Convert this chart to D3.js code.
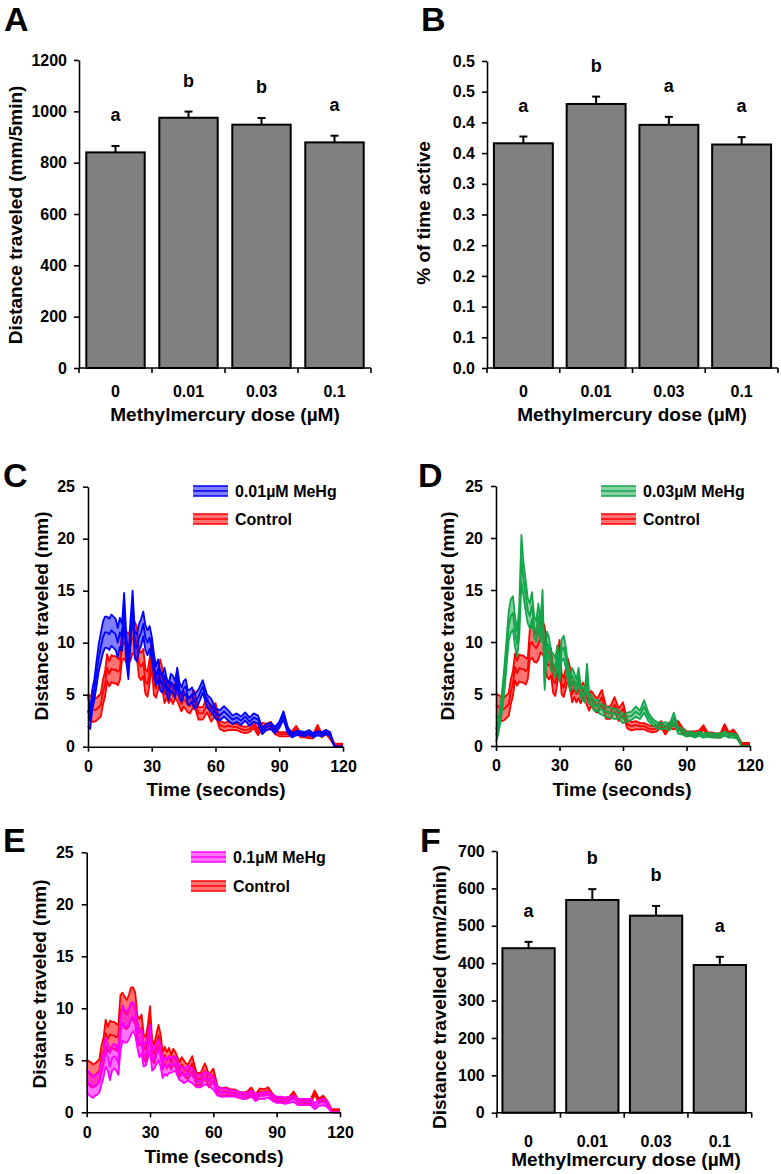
<!DOCTYPE html>
<html><head><meta charset="utf-8">
<script src="https://cdn.jsdelivr.net/npm/d3@7"></script>
<style>
body{margin:0;background:#fff}
svg text{font-family:"Liberation Sans",Arial,sans-serif;font-weight:bold;fill:#000}
</style>
</head><body>
<svg id="fig" width="781" height="1174"></svg>
<script>
// ---------------- data ----------------
const doseCats = ["0", "0.01", "0.03", "0.1"];

const distance5min = [840, 975, 948, 879];
const distance5minErr = [25, 24, 26, 26];
const distance5minLetters = ["a", "b", "b", "a"];
const distance5minTicks = [0, 200, 400, 600, 800, 1000, 1200];
const distance5minTickLabels = ["0", "200", "400", "600", "800", "1000", "1200"];

const activeFrac = [0.366, 0.430, 0.396, 0.364];
const activeFracErr = [0.011, 0.012, 0.013, 0.012];
const activeLetters = ["a", "b", "a", "a"];
const activeTicks = [0, 0.05, 0.1, 0.15, 0.2, 0.25, 0.3, 0.35, 0.4, 0.45, 0.5];
const activeTickLabels = ["0.0", "0.1", "0.1", "0.2", "0.2", "0.3", "0.3", "0.4", "0.4", "0.5", "0.5"];

const distance2min = [440, 569, 527, 395];
const distance2minErr = [17, 29, 26, 22];
const distance2minLetters = ["a", "b", "b", "a"];
const distance2minTicks = [0, 100, 200, 300, 400, 500, 600, 700];
const distance2minTickLabels = ["0", "100", "200", "300", "400", "500", "600", "700"];

const timeTicks = [0, 30, 60, 90, 120];
const distanceTicks = [0, 5, 10, 15, 20, 25];

const timeSec = [0,1,2,3,4,5,6,7,8,9,10,11,12,13,14,15,16,17,18,19,20,21,22,23,24,25,26,27,28,29,30,
  31,32,33,34,35,36,37,38,39,40,41,42,43,44,45,46,47,48,49,50,
  52,54,56,58,60,62,64,66,68,70,72,74,76,78,80,82,84,86,88,90,92,94,96,98,100,
  102,104,106,108,110,112,114,116,118,120];

const controlMean = [4.0,3.8,3.6,3.5,3.6,3.8,4.0,5.2,6.0,7.6,7.0,7.5,7.4,7.4,7.2,7.4,9.8,10.0,9.6,9.4,9.8,10.5,10.4,10.0,8.0,7.7,8.1,6.3,6.0,7.3,9.0,
  6.0,5.6,6.5,7.4,6.5,5.0,5.5,5.0,5.4,4.8,5.4,5.1,4.6,4.1,4.6,4.3,4.0,3.9,4.3,4.7,
  3.2,3.2,4.0,3.0,3.6,2.1,1.9,2.0,1.9,1.9,1.7,1.6,1.7,2.1,1.4,2.0,1.9,2.1,1.5,1.2,1.2,1.2,1.3,1.8,1.1,
  1.1,1.0,1.0,1.9,1.1,1.4,0.9,0.2,0.2,0.2];
const controlSem = [1.1,1.1,1.2,1.1,1.1,1.1,1.1,1.2,1.2,1.3,1.2,1.3,1.3,1.3,1.3,1.0,1.5,1.5,1.5,1.4,1.5,1.5,1.6,1.5,1.3,1.3,1.3,1.2,1.2,1.2,1.2,
  1.0,0.9,1.0,1.0,1.0,0.8,0.8,0.8,0.8,0.7,0.7,0.7,0.7,0.7,0.7,0.7,0.7,0.7,0.7,0.7,
  0.6,0.6,0.7,0.6,0.6,0.4,0.4,0.4,0.3,0.3,0.3,0.3,0.3,0.3,0.3,0.3,0.3,0.3,0.3,0.2,0.2,0.2,0.2,0.2,0.2,
  0.2,0.2,0.2,0.2,0.2,0.2,0.2,0.1,0.1,0.1];

const mehg001Mean = [3.5,2.5,4.5,5.5,7.0,8.5,9.5,10.5,11.0,11.0,10.8,11.2,11.0,10.8,10.0,11.0,10.5,13.5,9.5,7.5,11.0,14.0,9.8,9.5,10.5,11.0,11.8,10.5,10.0,10.5,9.5,
  8.0,6.8,7.5,6.3,6.0,6.8,5.8,5.3,6.2,6.0,5.5,6.8,5.5,5.0,5.6,5.8,4.7,4.8,5.0,4.3,
  4.8,5.8,4.4,4.0,3.2,3.0,3.4,3.0,2.6,2.8,2.5,2.9,2.4,2.8,2.6,1.5,1.9,2.0,1.6,2.1,3.0,1.6,1.1,1.3,1.3,
  1.2,1.4,1.1,1.3,1.2,1.4,1.2,0,0,0];
const mehg001Sem = [1.5,0.8,1.0,1.0,1.2,1.3,1.4,1.5,1.5,1.5,1.5,1.5,1.5,1.5,1.4,1.4,1.3,1.3,1.3,1.0,1.2,1.0,1.3,1.3,1.3,1.3,1.2,1.2,1.2,1.1,1.1,
  1.0,0.9,0.9,0.9,0.8,0.8,0.8,0.8,0.8,0.8,0.8,0.8,0.7,0.7,0.7,0.7,0.7,0.7,0.7,0.7,
  0.7,0.6,0.6,0.6,0.5,0.5,0.5,0.5,0.4,0.4,0.4,0.4,0.4,0.4,0.4,0.3,0.3,0.3,0.3,0.3,0.4,0.3,0.2,0.2,0.2,
  0.2,0.2,0.2,0.2,0.2,0.2,0.2,0,0,0];

const mehg003Mean = [1.0,1.7,3.0,4.5,6.5,9.0,11.5,12.5,12.8,11.0,9.8,12.0,18.0,16.0,14.5,13.0,12.5,13.5,11.5,11.0,12.5,11.0,13.5,6.0,10.0,9.5,8.2,8.0,7.5,8.8,7.0,
  9.2,9.5,8.5,7.0,6.0,6.8,6.3,5.8,6.8,5.3,5.0,4.8,7.0,4.6,4.4,4.0,3.8,4.0,3.6,3.5,
  3.3,3.2,3.1,3.0,2.6,2.8,2.9,3.3,3.0,3.8,2.8,2.3,2.0,1.9,2.0,1.8,2.7,1.5,1.4,1.1,1.2,1.0,1.2,1.0,1.1,
  1.0,1.0,1.0,1.2,1.0,1.0,0.9,0,0,0];
const mehg003Sem = [0.6,0.6,0.8,1.0,1.2,1.3,1.4,1.6,1.6,1.5,1.2,1.5,2.3,1.6,1.5,1.2,1.2,1.3,1.0,1.0,1.2,1.0,1.5,0.6,1.0,1.0,0.9,0.9,0.9,0.9,0.8,
  1.0,1.1,1.0,0.8,0.7,0.7,0.7,0.6,0.7,0.6,0.6,0.6,0.9,0.5,0.5,0.5,0.5,0.5,0.5,0.5,
  0.5,0.5,0.5,0.4,0.4,0.4,0.4,0.5,0.4,0.6,0.4,0.3,0.3,0.3,0.3,0.3,0.5,0.3,0.3,0.2,0.2,0.2,0.2,0.2,0.2,
  0.2,0.2,0.2,0.2,0.2,0.2,0.2,0,0,0];

const mehg01Mean = [3.0,2.8,2.6,2.4,2.6,2.7,2.9,3.8,4.6,5.8,5.3,4.4,5.2,5.4,5.2,4.7,7.5,8.6,8.3,8.2,8.5,9.0,9.2,8.8,7.5,6.5,6.8,5.5,5.6,6.3,7.2,
  5.0,5.2,5.6,6.0,5.4,4.1,4.5,4.3,4.6,4.5,4.6,4.7,4.2,3.8,3.7,3.5,3.6,3.8,3.6,3.5,
  3.0,3.0,3.3,3.1,2.8,2.0,1.9,1.9,1.8,1.8,1.7,1.6,1.6,1.8,1.4,1.6,1.6,1.7,1.4,1.2,1.2,1.1,1.2,1.3,1.0,
  1.0,1.0,1.0,0.6,0.9,1.0,0.8,0,0,0];
const mehg01Sem = [1.1,1.1,1.1,1.0,1.0,1.0,1.0,1.1,1.2,1.4,1.3,1.3,1.2,1.2,1.2,1.1,1.6,1.7,1.6,1.5,1.5,1.5,1.4,1.4,1.3,1.2,1.2,1.1,1.1,1.1,1.2,
  1.0,1.0,1.0,1.0,1.0,0.8,0.8,0.8,0.8,0.7,0.7,0.7,0.7,0.7,0.7,0.7,0.7,0.7,0.7,0.7,
  0.6,0.6,0.6,0.6,0.6,0.4,0.4,0.4,0.3,0.3,0.3,0.3,0.3,0.3,0.3,0.3,0.3,0.3,0.3,0.3,0.3,0.3,0.3,0.3,0.3,
  0.3,0.3,0.3,0.3,0.3,0.3,0.3,0,0,0];

// ---------------- drawing ----------------
const svg = d3.select("#fig");
const TICK_FONT = "16px", TITLE_FONT = "19px";

function panelLetter(txt, x, y) {
  svg.append("text").attr("x", x).attr("y", y).style("font-size", "34px").text(txt);
}
function yTitle(txt, x, y) {
  svg.append("text").attr("transform", `translate(${x},${y}) rotate(-90)`)
    .attr("text-anchor", "middle").style("font-size", TITLE_FONT).text(txt);
}
function xTitle(txt, x, y) {
  svg.append("text").attr("x", x).attr("y", y).attr("text-anchor", "middle")
    .style("font-size", TITLE_FONT).text(txt);
}
function styleAxis(g) {
  g.selectAll("path.domain").attr("stroke", "#000").attr("stroke-width", 1.6);
  g.selectAll(".tick line").attr("stroke", "#000").attr("stroke-width", 1.6);
  g.selectAll(".tick text").style("font-size", TICK_FONT)
    .style("font-family", '"Liberation Sans",Arial,sans-serif').style("font-weight", "bold").attr("fill", "#000");
}

function barPanel(c) {
  const y = d3.scaleLinear().domain([0, c.max]).range([c.yBot, c.yTop]);
  const x = d3.scaleBand().domain(doseCats).range([c.x0, c.x1]).paddingInner(c.pad).paddingOuter(c.pad / 2);
  const g = svg.append("g");
  g.selectAll("rect.bar").data(c.values).join("rect").attr("class", "bar")
    .attr("x", (d, i) => x(doseCats[i])).attr("y", d => y(d))
    .attr("width", x.bandwidth()).attr("height", d => y(0) - y(d))
    .attr("fill", "#808080").attr("stroke", "#000").attr("stroke-width", 2);
  const eb = g.selectAll("g.err").data(c.values).join("g").attr("class", "err");
  eb.append("line")
    .attr("x1", (d, i) => x(doseCats[i]) + x.bandwidth() / 2).attr("x2", (d, i) => x(doseCats[i]) + x.bandwidth() / 2)
    .attr("y1", d => y(d)).attr("y2", (d, i) => y(d + c.errs[i]))
    .attr("stroke", "#000").attr("stroke-width", 2);
  eb.append("line")
    .attr("x1", (d, i) => x(doseCats[i]) + x.bandwidth() / 2 - 4).attr("x2", (d, i) => x(doseCats[i]) + x.bandwidth() / 2 + 4)
    .attr("y1", (d, i) => y(d + c.errs[i])).attr("y2", (d, i) => y(d + c.errs[i]))
    .attr("stroke", "#000").attr("stroke-width", 2);
  g.selectAll("text.sig").data(c.values).join("text").attr("class", "sig")
    .attr("x", (d, i) => x(doseCats[i]) + x.bandwidth() / 2)
    .attr("y", (d, i) => y(d + c.errs[i]) - 25)
    .attr("text-anchor", "middle").style("font-size", "18px").text((d, i) => c.letters[i]);
  const ya = g.append("g").attr("transform", `translate(${c.x0},0)`)
    .call(d3.axisLeft(y).tickValues(c.ticks).tickSize(5).tickSizeOuter(0).tickPadding(7)
      .tickFormat((d, i) => c.tickLabels[i]));
  styleAxis(ya);
  const bounds = doseCats.map(d => x(d) - x.step() * x.paddingInner() / 2).concat([c.x1]);
  g.append("line").attr("x1", c.x0).attr("x2", c.x1).attr("y1", y(0)).attr("y2", y(0))
    .attr("stroke", "#000").attr("stroke-width", 1.6);
  g.selectAll("line.xt").data(bounds).join("line").attr("class", "xt")
    .attr("x1", d => d).attr("x2", d => d).attr("y1", y(0)).attr("y2", y(0) + 5)
    .attr("stroke", "#000").attr("stroke-width", 1.6);
  g.selectAll("text.xl").data(doseCats).join("text").attr("class", "xl")
    .attr("x", d => x(d) + x.bandwidth() / 2).attr("y", c.xLabY)
    .attr("text-anchor", "middle").style("font-size", TICK_FONT).text(d => d);
}

const RED = "#ff0000";
function linePanel(c) {
  const x = d3.scaleLinear().domain([0, 120]).range([c.x0, c.x1]);
  const y = d3.scaleLinear().domain([0, 25]).range([c.yBot, c.yTop]);
  const g = svg.append("g");
  const series = [
    { mean: controlMean, sem: controlSem, color: RED, op: 0.55 },
    { mean: c.mean, sem: c.sem, color: c.color, op: c.op }
  ];
  series.forEach(s => {
    const pts = timeSec.map((t, i) => ({ t, m: s.mean[i], e: s.sem[i] }));
    g.append("path").datum(pts)
      .attr("d", d3.area().x(d => x(d.t)).y0(d => y(Math.max(0, d.m - d.e))).y1(d => y(d.m + d.e)))
      .attr("fill", s.color).attr("fill-opacity", s.op).attr("stroke", "none");
    [d => d.m + d.e, d => d.m, d => Math.max(0, d.m - d.e)].forEach(acc => {
      g.append("path").datum(pts)
        .attr("d", d3.line().x(d => x(d.t)).y(d => y(acc(d))))
        .attr("fill", "none").attr("stroke", s.color).attr("stroke-width", 1.8)
        .attr("stroke-linejoin", "round");
    });
  });
  const ya = g.append("g").attr("transform", `translate(${c.x0},0)`)
    .call(d3.axisLeft(y).tickValues(distanceTicks).tickSize(5).tickSizeOuter(0).tickPadding(8));
  styleAxis(ya);
  const xa = g.append("g").attr("transform", `translate(0,${c.yBot})`)
    .call(d3.axisBottom(x).tickValues(timeTicks).tickSize(5).tickSizeOuter(0).tickPadding(9));
  styleAxis(xa);
  const legend = [
    { label: c.label, color: c.color, op: c.op, y: c.legY1 },
    { label: "Control", color: RED, op: 0.55, y: c.legY2 }
  ];
  legend.forEach(l => {
    g.append("rect").attr("x", c.legX).attr("y", l.y - 5).attr("width", 35).attr("height", 10)
      .attr("fill", l.color).attr("fill-opacity", l.op);
    [-5, 0, 5].forEach(dy => g.append("line").attr("x1", c.legX).attr("x2", c.legX + 35)
      .attr("y1", l.y + dy).attr("y2", l.y + dy).attr("stroke", l.color).attr("stroke-width", 1.5));
    g.append("text").attr("x", c.legX + 42).attr("y", l.y + 6).style("font-size", "16px").text(l.label);
  });
}

// Panel A
panelLetter("A", 4, 31);
barPanel({ x0: 79, x1: 371, yTop: 60, yBot: 368, max: 1200, pad: 0.2,
  values: distance5min, errs: distance5minErr, letters: distance5minLetters,
  ticks: distance5minTicks, tickLabels: distance5minTickLabels, xLabY: 396.5 });
yTitle("Distance traveled (mm/5min)", 22, 215);
xTitle("Methylmercury dose (\u00b5M)", 225, 421);

// Panel B
panelLetter("B", 421, 31);
barPanel({ x0: 487, x1: 778, yTop: 61, yBot: 368, max: 0.5, pad: 0.19,
  values: activeFrac, errs: activeFracErr, letters: activeLetters,
  ticks: activeTicks, tickLabels: activeTickLabels, xLabY: 396.5 });
yTitle("% of time active", 430, 213);
xTitle("Methylmercury dose (\u00b5M)", 632, 421);

// Panel C
panelLetter("C", 3, 487);
linePanel({ x0: 88, x1: 343, yTop: 486.7, yBot: 746.7, mean: mehg001Mean, sem: mehg001Sem,
  color: "#0000ff", op: 0.5, label: "0.01\u00b5M MeHg", legX: 193, legY1: 491, legY2: 519 });
yTitle("Distance traveled (mm)", 47.5, 616);
xTitle("Time (seconds)", 216, 796);

// Panel D
panelLetter("D", 418, 487);
linePanel({ x0: 496, x1: 750, yTop: 486, yBot: 746, mean: mehg003Mean, sem: mehg003Sem,
  color: "#12a54a", op: 0.5, label: "0.03\u00b5M MeHg", legX: 601, legY1: 491, legY2: 519 });
yTitle("Distance traveled (mm)", 454, 616);
xTitle("Time (seconds)", 622, 796);

// Panel E
panelLetter("E", 3, 852);
linePanel({ x0: 86.7, x1: 340, yTop: 852.3, yBot: 1112.3, mean: mehg01Mean, sem: mehg01Sem,
  color: "#ff00ff", op: 0.55, label: "0.1\u00b5M MeHg", legX: 191, legY1: 857, legY2: 886 });
yTitle("Distance traveled (mm)", 46, 984);
xTitle("Time (seconds)", 214, 1163);

// Panel F
panelLetter("F", 420, 852);
barPanel({ x0: 496.7, x1: 751.7, yTop: 851, yBot: 1112.7, max: 700, pad: 0.18,
  values: distance2min, errs: distance2minErr, letters: distance2minLetters,
  ticks: distance2minTicks, tickLabels: distance2minTickLabels, xLabY: 1146.5 });
yTitle("Distance travelled (mm/2min)", 446, 997);
xTitle("Methylmercury dose (\u00b5M)", 626, 1166);
</script>
</body></html>
